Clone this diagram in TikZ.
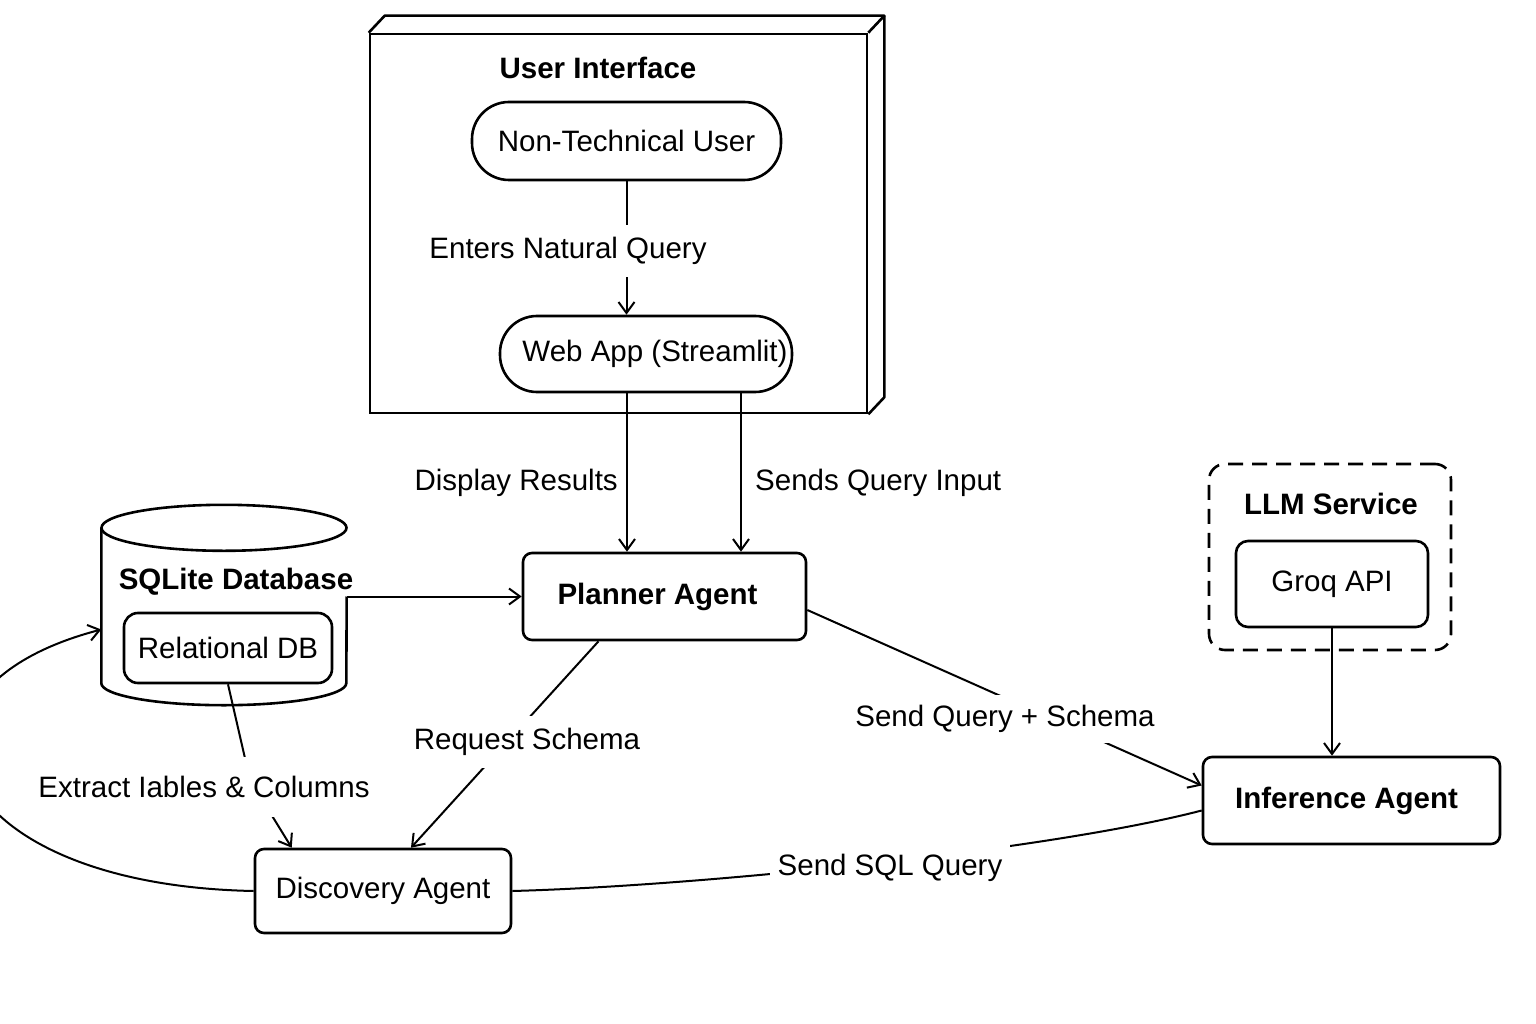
\documentclass[tikz,border=0pt]{standalone}
\usepackage{fontspec}
\setmainfont{Liberation Sans}
\usepackage{tikz}
\usetikzlibrary{arrows.meta, positioning, calc}

\newcommand{\dgfont}{\fontsize{29.5}{35}\selectfont}

\begin{document}
\begin{tikzpicture}[
    x=1pt, y=-1pt,
    box/.style={draw, line width=2.6pt, font=\dgfont},
    pill/.style={box, rounded corners=37pt},
    agent/.style={box, rounded corners=9pt},
    inner/.style={box, rounded corners=14pt},
    title/.style={font=\dgfont\bfseries, inner sep=2pt},
    lbl/.style={font=\dgfont, fill=white, inner xsep=6pt, inner ysep=10pt, yshift=-3pt},
    conn/.style={line width=2pt},
    arrow/.style={conn, -{Straight Barb[length=11pt, width=16pt, line width=2pt]}}
]
    \clip (0,0) rectangle (1536,1024);
    \fill[white] (0,0) rectangle (1536,1024);

    % user interface block
    \node[box, minimum width=497pt, minimum height=379pt] (ui) at (618.5,223.5) {};
    \draw[line width=2.6pt, line join=round] (ui.north west) -- ++(16,-17) -- ([shift={(16pt,17pt)}]ui.north east) -- (ui.north east);
    \draw[line width=2.6pt, line join=round] ([shift={(16pt,17pt)}]ui.north east) -- ([shift={(16pt,17pt)}]ui.south east) -- (ui.south east);
    \node[title] (uititle) at (598,68) {User Interface};
    \node[pill, minimum width=309pt, minimum height=78pt] (user) at (626.5,141) {Non-Technical User};
    \node[pill, minimum width=292pt, minimum height=76pt] (web) at (646,354) {\hspace*{18pt}Web App (Streamlit)};

    % agents
    \node[agent, minimum width=283pt, minimum height=87pt, font=\dgfont\bfseries] (planner) at (664.5,596.5) {Planner Agent\hspace*{14pt}};
    \node[agent, minimum width=256pt, minimum height=84pt] (disc) at (383,891) {Discovery Agent};
    \node[agent, minimum width=297pt, minimum height=87pt, font=\dgfont\bfseries] (infer) at (1351.5,800.5) {Inference Agent\hspace*{10pt}};

    % sqlite database
    \node[minimum width=245pt, minimum height=155pt, inner sep=0pt] (db) at (224,605.5) {};
    \coordinate (dbout) at (db.east |- planner.west);
    \draw[line width=2.6pt] (db.north) ellipse[x radius=122.5pt, y radius=23pt];
    \draw[line width=2.6pt] (db.north west) -- (db.south west)
        arc[start angle=180, end angle=360, x radius=122.5pt, y radius=22pt] -- (dbout);
    \node[title] (dbtitle) at (236,582) {SQLite Database};
    \node[inner, minimum width=208pt, minimum height=70pt] (rdb) at (228,648) {Relational DB};

    % llm service
    \node[box, dashed, dash pattern=on 15pt off 9pt, rounded corners=16pt,
          minimum width=242pt, minimum height=186pt] (llm) at (1330,557) {};
    \node[title] (llmtitle) at (1331,504) {LLM Service};
    \node[inner, rounded corners=12pt, minimum width=192pt, minimum height=86pt] (groq) at (1332,584) {Groq API};

    % connectors
    \draw[arrow] (user.south) -- (user.south |- web.north);
    \node[lbl, inner ysep=12pt] (enters) at (568,248) {Enters Natural Query};

    \draw[arrow] ([xshift=-19pt]web.south) -- ([xshift=-19pt]web.south |- planner.north);
    \draw[arrow] ([xshift=95pt]web.south) -- ([xshift=95pt]web.south |- planner.north);
    \node[font=\dgfont, anchor=east, inner sep=0pt] (display) at (618,483) {Display Results};
    \node[font=\dgfont, anchor=west, inner sep=0pt] (sends) at (755,483) {Sends Query Input};

    \draw[arrow] (dbout) -- (planner.west);

    \draw[arrow] ([xshift=-66pt]planner.south) -- ([xshift=28pt]disc.north);
    \node[lbl, inner ysep=12pt] (request) at (527,739) {Request Schema};

    \coordinate (kink) at (250,780);
    \draw[arrow] (rdb.south) -- (kink) -- ([xshift=38pt]disc.north west);
    \node[lbl, inner ysep=19pt] (extract) at (204,784) {Extract Iables \& Columns};

    \draw[arrow] (planner.east |- 0,610) -- ([yshift=15pt]infer.west);
    \node[lbl] (sendqs) at (1005,716) {Send Query + Schema};

    \draw[arrow] (groq.south) -- (groq.south |- infer.north);

    \draw[conn] (disc.east) .. controls (700,886) and (1050,850) .. ([yshift=-10pt]infer.west);
    \node[lbl, inner xsep=8pt] (sendsql) at (890,865) {Send SQL Query};

    \draw[arrow] (disc.west) .. controls (-60,885) and (-130,690) .. ([yshift=-24pt]db.west);
\end{tikzpicture}
\end{document}
